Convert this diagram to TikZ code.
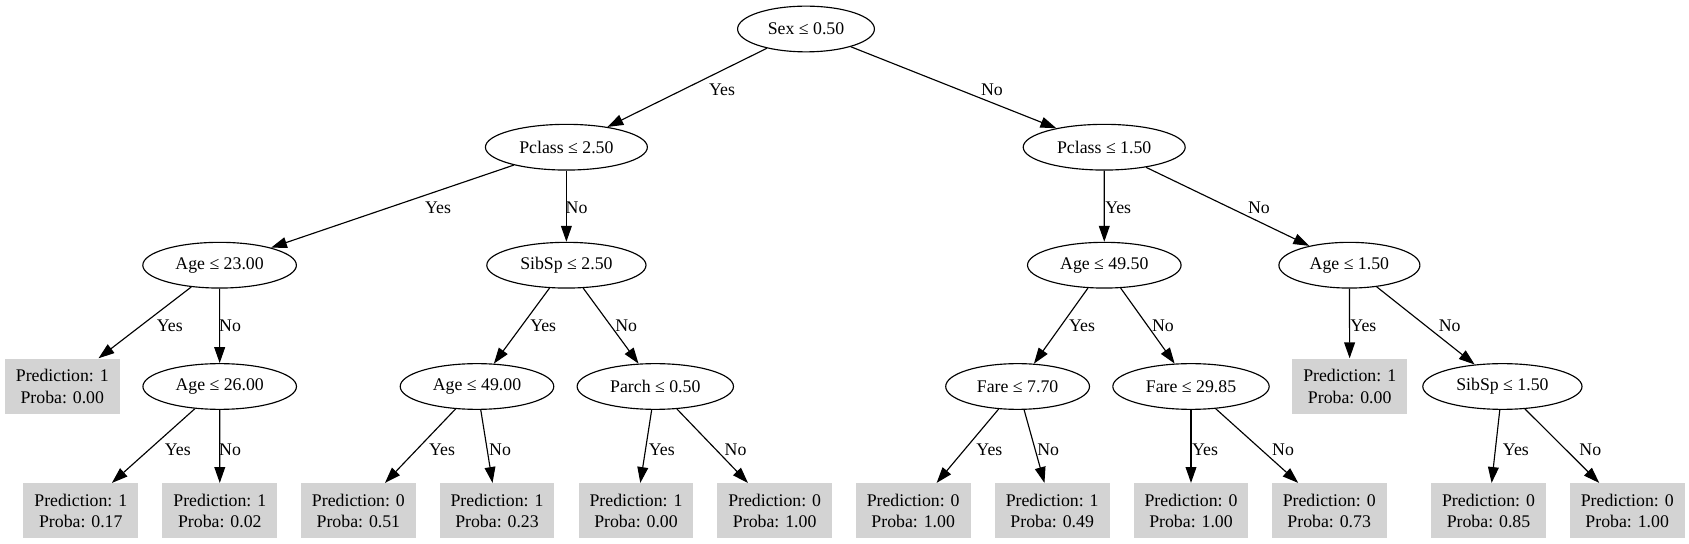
\documentclass[tikz,border=0pt]{standalone}
\usepackage{fontspec}
\setmainfont{Liberation Serif}
\usepackage{xcolor}
\usetikzlibrary{arrows.meta, shapes.geometric}
\definecolor{leafgray}{HTML}{D3D3D3}

\begin{document}
\begin{tikzpicture}[x=0.7874pt, y=-0.7874pt,
  every node/.style={font=\fontsize{14}{17}\selectfont},
  split/.style={draw, ellipse, line width=0.9pt, inner xsep=8pt, inner ysep=2pt, minimum height=36pt},
  leaf/.style={fill=leafgray, align=center, inner sep=0pt, minimum width=90.5pt, minimum height=43.5pt},
  lbl/.style={inner sep=0pt},
  arr/.style={line width=0.9pt, -{Triangle[length=12.5pt, width=8.5pt]}}]
\useasboundingbox (0,0) rectangle (1689,544);

\node[split] (sex) at (806,29) {Sex ≤ 0.50};
\node[split] (pc25) at (566.4,147.2) {Pclass ≤ 2.50};
\node[split] (pc15) at (1104.2,147.2) {Pclass ≤ 1.50};
\node[split] (age23) at (219.6,265.2) {Age ≤ 23.00};
\node[split] (sib25) at (566.4,265.2) {SibSp ≤ 2.50};
\node[split] (age495) at (1104.3,265.2) {Age ≤ 49.50};
\node[split] (age15) at (1349.4,265.2) {Age ≤ 1.50};

\node[leaf] (p1) at (62.3,386.2) {Prediction: 1\\Proba: 0.00};
\node[split] (age26) at (219.7,386.5) {Age ≤ 26.00};
\node[split] (age49) at (477,386.5) {Age ≤ 49.00};
\node[split] (parch) at (655.3,386.5) {Parch ≤ 0.50};
\node[split] (fare77) at (1017.6,386.5) {Fare ≤ 7.70};
\node[split] (fare2985) at (1191,386.5) {Fare ≤ 29.85};
\node[leaf] (p2) at (1349.7,386.2) {Prediction: 1\\Proba: 0.00};
\node[split] (sib15) at (1502.4,386.5) {SibSp ≤ 1.50};

\node[leaf] (q1) at (80.8,510.8) {Prediction: 1\\Proba: 0.17};
\node[leaf] (q2) at (219.8,510.8) {Prediction: 1\\Proba: 0.02};
\node[leaf] (q3) at (358.4,510.8) {Prediction: 0\\Proba: 0.51};
\node[leaf] (q4) at (497,510.8) {Prediction: 1\\Proba: 0.23};
\node[leaf] (q5) at (636,510.8) {Prediction: 1\\Proba: 0.00};
\node[leaf] (q6) at (774.7,510.8) {Prediction: 0\\Proba: 1.00};
\node[leaf] (q7) at (913.2,510.8) {Prediction: 0\\Proba: 1.00};
\node[leaf] (q8) at (1052.2,510.8) {Prediction: 1\\Proba: 0.49};
\node[leaf] (q9) at (1191,510.8) {Prediction: 0\\Proba: 1.00};
\node[leaf] (q10) at (1329.2,510.8) {Prediction: 0\\Proba: 0.73};
\node[leaf] (q11) at (1488.5,510.8) {Prediction: 0\\Proba: 0.85};
\node[leaf] (q12) at (1627.2,510.8) {Prediction: 0\\Proba: 1.00};

\draw[arr] (sex) -- (pc25);
\draw[arr] (sex) -- (pc15);
\draw[arr] (pc25) -- (age23);
\draw[arr] (pc25) -- (sib25);
\draw[arr] (pc15) -- (age495);
\draw[arr] (pc15) -- (age15);
\draw[arr] (age23) -- (p1);
\draw[arr] (age23) -- (age26);
\draw[arr] (sib25) -- (age49);
\draw[arr] (sib25) -- (parch);
\draw[arr] (age495) -- (fare77);
\draw[arr] (age495) -- (fare2985);
\draw[arr] (age15) -- (p2);
\draw[arr] (age15) -- (sib15);
\draw[arr] (age26) -- (q1);
\draw[arr] (age26) -- (q2);
\draw[arr] (age49) -- (q3);
\draw[arr] (age49) -- (q4);
\draw[arr] (parch) -- (q5);
\draw[arr] (parch) -- (q6);
\draw[arr] (fare77) -- (q7);
\draw[arr] (fare77) -- (q8);
\draw[arr] (fare2985) -- (q9);
\draw[arr] (fare2985) -- (q10);
\draw[arr] (sib15) -- (q11);
\draw[arr] (sib15) -- (q12);

\node[lbl] (y1) at (722,89.3) {Yes};
\node[lbl] (n1) at (992,89.3) {No};
\node[lbl] (y2) at (438,207.3) {Yes};
\node[lbl] (n2) at (576.6,207.3) {No};
\node[lbl] (y3) at (1118.2,207.3) {Yes};
\node[lbl] (n3) at (1258.9,207.3) {No};
\node[lbl] (y4) at (169.8,325.3) {Yes};
\node[lbl] (n4) at (230.1,325.3) {No};
\node[lbl] (y5) at (543.2,325.3) {Yes};
\node[lbl] (n5) at (626.2,325.3) {No};
\node[lbl] (y6) at (1082.1,325.3) {Yes};
\node[lbl] (n6) at (1163,325.3) {No};
\node[lbl] (y7) at (1363.4,325.3) {Yes};
\node[lbl] (n7) at (1449.7,325.3) {No};
\node[lbl] (y8) at (177.8,449.3) {Yes};
\node[lbl] (n8) at (230.1,449.3) {No};
\node[lbl] (y9) at (442,449.3) {Yes};
\node[lbl] (n9) at (500.1,449.3) {No};
\node[lbl] (y10) at (661.8,449.3) {Yes};
\node[lbl] (n10) at (735.6,449.3) {No};
\node[lbl] (y11) at (989.4,449.3) {Yes};
\node[lbl] (n11) at (1048.2,449.3) {No};
\node[lbl] (y12) at (1205,449.3) {Yes};
\node[lbl] (n12) at (1283.1,449.3) {No};
\node[lbl] (y13) at (1515.9,449.3) {Yes};
\node[lbl] (n13) at (1590.3,449.3) {No};
\end{tikzpicture}
\end{document}
